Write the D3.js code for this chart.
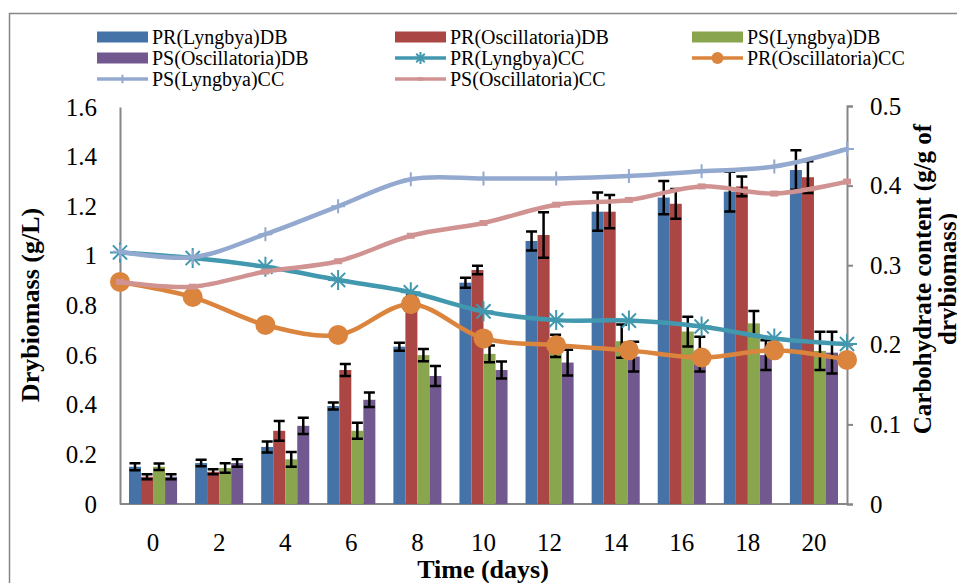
<!DOCTYPE html>
<html>
<head>
<meta charset="utf-8">
<script src="https://cdn.jsdelivr.net/npm/d3@7"></script>
<style>
  html, body { margin: 0; padding: 0; background: #fff; }
  svg { display: block; }
  svg text { font-family: "Liberation Serif", "Times New Roman", serif; }
</style>
</head>
<body>
<svg id="chart" width="957" height="583"></svg>
<script>
// ---------------- data ----------------
const days = ["0", "2", "4", "6", "8", "10", "12", "14", "16", "18", "20"];

const barNames = ["PR(Lyngbya)DB", "PR(Oscillatoria)DB", "PS(Lyngbya)DB", "PS(Oscillatoria)DB"];
const prLyngbyaDB     = [0.15, 0.165, 0.23, 0.395, 0.634, 0.892, 1.06, 1.178, 1.235, 1.259, 1.346];
const prLyngbyaDBErr  = [0.014, 0.013, 0.022, 0.014, 0.016, 0.02, 0.038, 0.077, 0.067, 0.08, 0.08];
const prOscillDB      = [0.11, 0.13, 0.295, 0.54, 0.82, 0.943, 1.084, 1.178, 1.21, 1.28, 1.317];
const prOscillDBErr   = [0.01, 0.01, 0.04, 0.024, 0.02, 0.017, 0.092, 0.067, 0.06, 0.04, 0.064];
const psLyngbyaDB     = [0.15, 0.145, 0.18, 0.295, 0.6, 0.605, 0.637, 0.656, 0.695, 0.728, 0.617];
const psLyngbyaDBErr  = [0.013, 0.019, 0.03, 0.032, 0.025, 0.034, 0.045, 0.067, 0.06, 0.05, 0.077];
const psOscillDB      = [0.11, 0.165, 0.315, 0.42, 0.516, 0.54, 0.57, 0.594, 0.604, 0.6, 0.61];
const psOscillDBErr   = [0.01, 0.015, 0.033, 0.029, 0.04, 0.034, 0.052, 0.06, 0.07, 0.06, 0.084];

const lineNames = ["PR(Lyngbya)CC", "PR(Oscillatoria)CC", "PS(Lyngbya)CC", "PS(Oscillatoria)CC"];
const prLyngbyaCC = [0.316, 0.309, 0.298, 0.2815, 0.266, 0.242, 0.231, 0.2304, 0.223, 0.208, 0.201];
const prOscillCC  = [0.279, 0.26, 0.225, 0.2124, 0.251, 0.208, 0.1995, 0.193, 0.184, 0.193, 0.181];
const psLyngbyaCC = [0.317, 0.31, 0.339, 0.374, 0.408, 0.409, 0.409, 0.412, 0.418, 0.424, 0.446];
const psOscillCC  = [0.279, 0.273, 0.292, 0.305, 0.337, 0.353, 0.376, 0.382, 0.399, 0.39, 0.405];

const leftTicks  = [0, 0.2, 0.4, 0.6, 0.8, 1, 1.2, 1.4, 1.6];
const rightTicks = [0, 0.1, 0.2, 0.3, 0.4, 0.5];

const yLeftTitle = "Drybiomass (g/L)";
const yRightTitle = ["Carbohydrate content (g/g of", "drybiomass)"];
const xTitle = "Time (days)";

// ---------------- styles ----------------
const FONT = "'Liberation Serif', 'Times New Roman', serif";
const barColors  = ["#4572A7", "#AA4643", "#89A54E", "#71588F"];
const lineColors = ["#4198AF", "#DB843D", "#93A9CF", "#D19392"];
const axisGray = "#868686";

const barValues = [prLyngbyaDB, prOscillDB, psLyngbyaDB, psOscillDB];
const barErrors = [prLyngbyaDBErr, prOscillDBErr, psLyngbyaDBErr, psOscillDBErr];
const lineValues = [prLyngbyaCC, prOscillCC, psLyngbyaCC, psOscillCC];

const svg = d3.select("#chart");

// outer border
svg.append("rect").attr("x", 9.5).attr("y", 13.5).attr("width", 1200).attr("height", 1200)
  .attr("fill", "none").attr("stroke", axisGray).attr("stroke-width", 1.5);

// scales
const plotL = 120, plotR = 847, plotT = 106, plotB = 504;
const xBand = d3.scaleBand().domain(days).range([plotL, plotR]).padding(0);
const xSub = d3.scaleBand().domain(d3.range(4)).range([9, xBand.bandwidth() - 9]).padding(0);
const xPoint = d3.scalePoint().domain(days).range([plotL, plotR]).padding(0);
const yL = d3.scaleLinear().domain([0, 1.6]).range([plotB, 107]);
const yR = d3.scaleLinear().domain([0, 0.5]).range([plotB, plotT]);

// axes
const fmt = d => d3.format("~g")(d);
const gLeft = svg.append("g").attr("transform", `translate(${plotL},0)`)
  .call(d3.axisLeft(yL).tickValues(leftTicks).tickFormat(fmt).tickSize(0).tickPadding(23));
const gRight = svg.append("g").attr("transform", `translate(${plotR},0)`)
  .call(d3.axisRight(yR).tickValues(rightTicks).tickFormat(fmt).tickSize(6).tickPadding(17));
const gBottom = svg.append("g").attr("transform", `translate(0,${plotB})`)
  .call(d3.axisBottom(xBand).tickSize(0).tickPadding(29));
[gLeft, gRight, gBottom].forEach(g => {
  g.attr("font-family", null).attr("font-size", null);
  g.select(".domain").attr("stroke", axisGray).attr("stroke-width", 2);
  g.selectAll(".tick line").attr("stroke", axisGray).attr("stroke-width", 2);
  g.selectAll(".tick text").attr("fill", "#000").style("font-size", "25px").style("font-family", FONT);
});
gBottom.select(".domain").attr("d", `M${plotL},0H${plotR}`);

// bars
const barsG = svg.append("g");
barValues.forEach((vals, s) => {
  barsG.selectAll(null).data(vals).join("rect")
    .attr("x", (d, i) => xBand(days[i]) + xSub(s))
    .attr("width", xSub.bandwidth())
    .attr("y", d => yL(d))
    .attr("height", d => yL(0) - yL(d))
    .attr("fill", barColors[s]);
});
// error bars
const errG = svg.append("g").attr("stroke", "#000").attr("stroke-width", 2.5).attr("fill", "none");
barValues.forEach((vals, s) => {
  vals.forEach((v, i) => {
    const e = barErrors[s][i];
    const cx = xBand(days[i]) + xSub(s) + xSub.bandwidth() / 2;
    const y1 = yL(v + e), y2 = yL(v - e);
    errG.append("path").attr("d", `M${cx},${y1}V${y2}M${cx - 5.5},${y1}H${cx + 5.5}M${cx - 5.5},${y2}H${cx + 5.5}`);
  });
});

// lines
const lineGen = d3.line().x((d, i) => xPoint(days[i])).y(d => yR(d)).curve(d3.curveCatmullRom.alpha(0.5));

function drawMarker(g, s, x, y, scale) {
  const c = lineColors[s];
  if (s === 0) {
    const r = 10 * scale;
    const a = r * Math.cos(Math.PI / 4);
    g.append("path").attr("d", `M${x},${y - r}V${y + r}M${x - a},${y - a}L${x + a},${y + a}M${x - a},${y + a}L${x + a},${y - a}M${x - r},${y}H${x + r}`)
      .attr("stroke", c).attr("stroke-width", 2).attr("fill", "none");
  } else if (s === 1) {
    g.append("circle").attr("cx", x).attr("cy", y).attr("r", 10 * scale).attr("fill", c);
  } else if (s === 2) {
    const r = 7 * scale;
    g.append("path").attr("d", `M${x},${y - r}V${y + r}M${x - r},${y}H${x + r}`)
      .attr("stroke", c).attr("stroke-width", 2).attr("fill", "none");
  } else {
    g.append("rect").attr("x", x - 4 * scale).attr("y", y - 3 * scale).attr("width", 8 * scale).attr("height", 6 * scale).attr("fill", c);
  }
}

lineValues.forEach((vals, s) => {
  const g = svg.append("g");
  g.append("path").datum(vals).attr("d", lineGen)
    .attr("fill", "none").attr("stroke", lineColors[s]).attr("stroke-width", 4.5)
    .attr("stroke-linejoin", "round").attr("stroke-linecap", "round");
  vals.forEach((v, i) => drawMarker(g, s, xPoint(days[i]), yR(v), 1));
});

// axis titles
svg.append("text").attr("transform", "translate(39,305) rotate(-90)")
  .attr("text-anchor", "middle").style("font-family", FONT).style("font-size", "26px")
  .style("font-weight", "bold").text(yLeftTitle);
yRightTitle.forEach((t, k) => {
  svg.append("text").attr("transform", `translate(${931 + k * 25},279) rotate(-90)`)
    .attr("text-anchor", "middle").style("font-family", FONT).style("font-size", "25px")
    .style("font-weight", "bold").text(t);
});
svg.append("text").attr("x", 483).attr("y", 578).attr("text-anchor", "middle")
  .style("font-family", FONT).style("font-size", "26px").style("font-weight", "bold").text(xTitle);

// legend
const legendItems = [
  { name: barNames[0], type: "bar", s: 0 },
  { name: barNames[1], type: "bar", s: 1 },
  { name: barNames[2], type: "bar", s: 2 },
  { name: barNames[3], type: "bar", s: 3 },
  { name: lineNames[0], type: "line", s: 0 },
  { name: lineNames[1], type: "line", s: 1 },
  { name: lineNames[2], type: "line", s: 2 },
  { name: lineNames[3], type: "line", s: 3 }
];
const colX = [97, 395, 692];
const rowY = [37, 58, 79];
const legG = svg.append("g");
legendItems.forEach((it, k) => {
  const cx = colX[k % 3], cy = rowY[Math.floor(k / 3)];
  if (it.type === "bar") {
    legG.append("rect").attr("x", cx).attr("y", cy - 5.5).attr("width", 51).attr("height", 11).attr("fill", barColors[it.s]);
  } else {
    legG.append("line").attr("x1", cx).attr("x2", cx + 51).attr("y1", cy).attr("y2", cy)
      .attr("stroke", lineColors[it.s]).attr("stroke-width", 3.5);
    drawMarker(legG, it.s, cx + 25.5, cy, 0.6);
  }
  legG.append("text").attr("x", cx + 55).attr("y", cy + 6.5).style("font-family", FONT)
    .style("font-size", "20px").text(it.name);
});
</script>
</body>
</html>
